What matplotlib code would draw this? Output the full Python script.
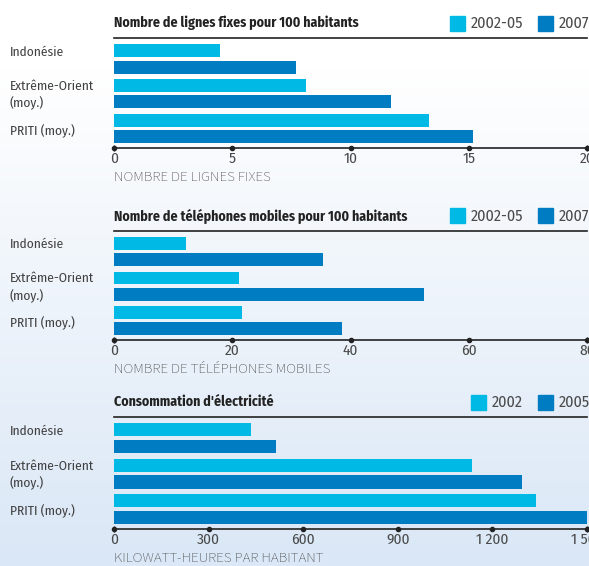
import numpy as np
import matplotlib
matplotlib.use("Agg")
import matplotlib.pyplot as plt
from matplotlib.patches import Rectangle
import matplotlib.transforms as mtransforms
from matplotlib import font_manager as fm

# ---------------- data ----------------
categories = ["Indonésie", "Extrême-Orient\n(moy.)", "PRITI (moy.)"]

p1_title = "Nombre de lignes fixes pour 100 habitants"
p1_series = ["2002-05", "2007"]
p1_a = [4.5, 8.1, 13.3]
p1_b = [7.7, 11.7, 15.2]
p1_ticks = [0, 5, 10, 15, 20]
p1_ticklabels = ["0", "5", "10", "15", "20"]
p1_xlabel = "NOMBRE DE LIGNES FIXES"

p2_title = "Nombre de téléphones mobiles pour 100 habitants"
p2_series = ["2002-05", "2007"]
p2_a = [12.1, 21.1, 21.7]
p2_b = [35.3, 52.5, 38.6]
p2_ticks = [0, 20, 40, 60, 80]
p2_ticklabels = ["0", "20", "40", "60", "80"]
p2_xlabel = "NOMBRE DE TÉLÉPHONES MOBILES"

p3_title = "Consommation d'électricité"
p3_series = ["2002", "2005"]
p3_a = [433, 1134, 1337]
p3_b = [515, 1295, 1500]
p3_ticks = [0, 300, 600, 900, 1200, 1500]
p3_ticklabels = ["0", "300", "600", "900", "1 200", "1 500"]
p3_xlabel = "KILOWATT-HEURES PAR HABITANT"


def pick(cands):
    for c in cands:
        try:
            fm.findfont(fm.FontProperties(family=c), fallback_to_default=False)
            return c
        except Exception:
            continue
    return "DejaVu Sans"


NARROW_NAME = pick(["Fira Sans Condensed", "PT Sans Narrow", "Roboto Condensed",
                    "Encode Sans Condensed", "Asap Condensed", "IBM Plex Sans Condensed",
                    "Open Sans Condensed", "Liberation Sans Narrow", "Archivo Narrow"])
REG_NAME = pick(["Source Sans 3", "Source Sans Pro", "PT Sans", "Fira Sans", "Liberation Sans"])
NARROW = [NARROW_NAME, "DejaVu Sans"]
REG = [REG_NAME, "DejaVu Sans"]

# ---------------- style ----------------
W, H = 589, 566
C_LIGHT = "#00B9E4"
C_DARK = "#007CC2"
TXT = "#404040"
GREY = "#4a4a4a"

fig = plt.figure(figsize=(W / 100, H / 100), dpi=100)

# background gradient
bg = fig.add_axes([0, 0, 1, 1], zorder=-10)
grad = np.linspace(0, 1, 300)[:, None]
top = np.array([1.0, 1.0, 1.0])
bot = np.array([218, 231, 246]) / 255
img = np.clip((grad - 0.12) / 0.88, 0, 1)[:, :, None] * (bot - top) + top
img = np.repeat(img, 2, axis=1)
bg.imshow(img, aspect="auto", extent=[0, 1, 0, 1], origin="upper")
bg.set_axis_off()


def fx(x):
    return x / W


def fy(y):
    return 1 - y / H


def panel(top_px, bot_px, title, series, a, b, ticks, ticklabels, xlabel, xmax):
    x0, x1 = 114, 587
    ax = fig.add_axes([fx(x0), fy(bot_px), fx(x1) - fx(x0), (bot_px - top_px) / H])
    ax.patch.set_alpha(0)
    idx = np.arange(len(categories))
    off = 0.235
    h = 0.37
    ax.barh(idx - off, a, height=h, color=C_LIGHT, label=series[0])
    ax.barh(idx + off, b, height=h, color=C_DARK, label=series[1])
    ax.set_xlim(0, xmax)
    ax.set_ylim(2.56, -0.6)
    ax.set_yticks([])
    for s in ["left", "right"]:
        ax.spines[s].set_visible(False)
    for s in ["top", "bottom"]:
        ax.spines[s].set_color("#222222")
        ax.spines[s].set_linewidth(1.2)
    ax.set_xticks(ticks)
    ax.set_xticklabels(ticklabels, family=NARROW, fontsize=11, color=GREY)
    ax.tick_params(axis="x", length=0, pad=3)
    trans = mtransforms.blended_transform_factory(ax.transData, ax.transAxes)
    ax.plot(ticks, [0] * len(ticks), "o", color="#222222", ms=3,
            transform=trans, clip_on=False)
    ax.plot([0, xmax], [0, 0], "|", color="#222222", ms=5,
            transform=trans, clip_on=False)
    # category labels
    ytr = mtransforms.blended_transform_factory(ax.transAxes, ax.transData)
    ypos = [-0.2, 1.04, 2.07]
    for cat, yv in zip(categories, ypos):
        ax.text(-104 / 473, yv, cat, transform=ytr,
                ha="left", va="center", family=NARROW, fontsize=9.6,
                color=TXT, linespacing=1.35)
    # title
    fig.text(fx(114), fy(top_px - 15), title, ha="left", va="center",
             family=NARROW, fontsize=10, fontweight="bold", color="#222222")
    # x label
    fig.text(fx(114), fy(bot_px + 29), xlabel, ha="left", va="center",
             family=REG, fontsize=10.8, color=GREY)
    # legend
    ly = top_px - 15
    sq = 15
    fig.patches.append(Rectangle((fx(538), fy(ly + sq / 2)), sq / W, sq / H,
                                 transform=fig.transFigure, color=C_DARK))
    fig.text(fx(559), fy(ly), series[1], ha="left", va="center",
             family=NARROW, fontsize=11.5, color=GREY)
    t = fig.text(fx(523), fy(ly), series[0], ha="right", va="center",
                 family=NARROW, fontsize=11.5, color=GREY)
    fig.canvas.draw()
    bb = t.get_window_extent()
    left_px = bb.x0
    fig.patches.append(Rectangle(((left_px - 6 - sq) / W, fy(ly + sq / 2)), sq / W, sq / H,
                                 transform=fig.transFigure, color=C_LIGHT))
    return ax


panel(38, 148, p1_title, p1_series, p1_a, p1_b, p1_ticks, p1_ticklabels, p1_xlabel, 20)
panel(231, 340, p2_title, p2_series, p2_a, p2_b, p2_ticks, p2_ticklabels, p2_xlabel, 80)
panel(417, 529, p3_title, p3_series, p3_a, p3_b, p3_ticks, p3_ticklabels, p3_xlabel, 1500)

fig.savefig("out.png", dpi=100)
